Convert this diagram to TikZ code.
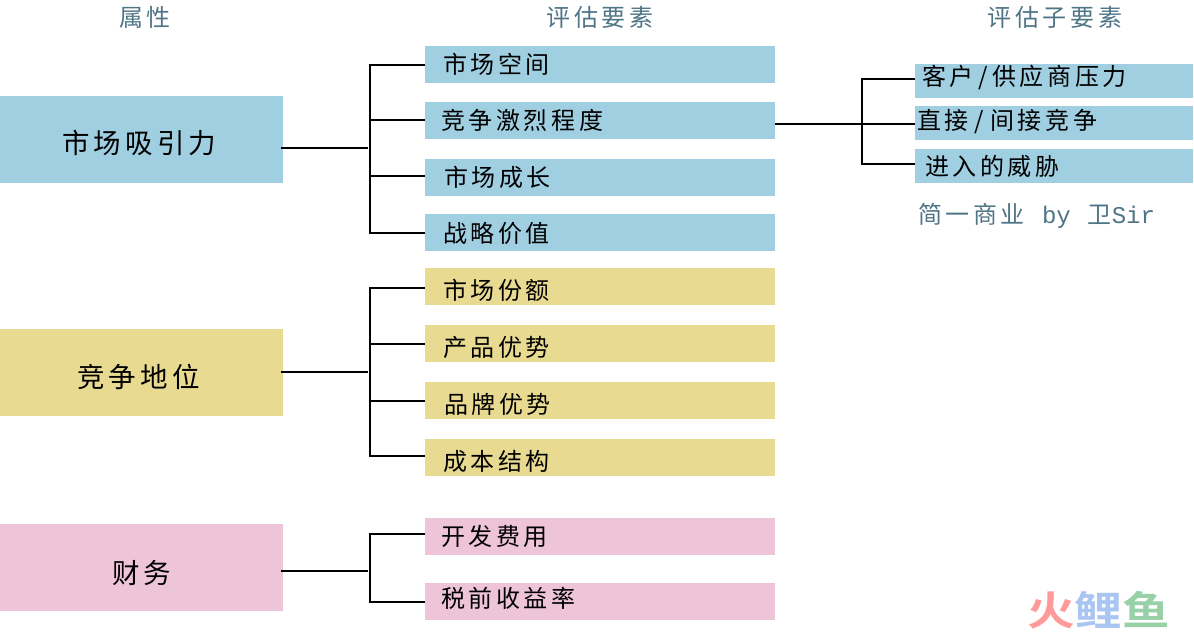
\documentclass[tikz,border=0pt]{standalone}
\usepackage{fontspec}
\setmainfont{Noto Sans CJK SC}[LetterSpace=15]
\newfontfamily\wmfont{Noto Sans CJK SC}[BoldFont=* Bold]
\newfontfamily\latinmono{Liberation Mono}
\usetikzlibrary{positioning}

\definecolor{attrblue}{HTML}{A0CFE2}
\definecolor{attryellow}{HTML}{E8DA90}
\definecolor{attrpink}{HTML}{EEC4D8}
\definecolor{headslate}{HTML}{4F7486}

\tikzset{
  attrbox/.style={minimum width=283,minimum height=86.5,inner sep=0,anchor=north west},
  itembox/.style={minimum width=350,minimum height=37,inner sep=0,anchor=north west},
  subbox/.style={fill=attrblue,minimum width=278,minimum height=34,inner sep=0,anchor=north west},
  attrtext/.style={font=\fontsize{27.5}{30}\selectfont,inner sep=0,anchor=west},
  itemtext/.style={font=\fontsize{24}{26}\selectfont,inner sep=0,anchor=west},
  headtext/.style={font=\fontsize{24}{26}\selectfont,text=headslate,inner sep=0},
  conn/.style={black,line width=2pt}
}

\begin{document}
\begin{tikzpicture}[x=1pt,y=-1pt]
\useasboundingbox (0,0) rectangle (1194,634);

% Headers
\node[headtext] (headattr) at (145,17) {属性};
\node[headtext] (headitem) at (600,17) {评估要素};
\node[headtext] (headsub) at (1055,17) {评估子要素};

% Attributes
\node[attrbox,fill=attrblue] (market) at (0,96) {};
\node[attrbox,fill=attryellow] (compete) at (0,329) {};
\node[attrbox,fill=attrpink] (finance) at (0,524) {};
\node[attrtext] (markettext) at (62,143) {市场吸引力};
\node[attrtext] (competetext) at (77,377) {竞争地位};
\node[attrtext] (financetext) at (112,573) {财务};

% Items, blue
\node[itembox,fill=attrblue] (space) at (425,46) {};
\node[itembox,fill=attrblue] (rivalry) at (425,102) {};
\node[itembox,fill=attrblue] (growth) at (425,159) {};
\node[itembox,fill=attrblue] (strategy) at (425,214) {};
\node[itemtext] at (443,64) {市场空间};
\node[itemtext] at (441,120) {竞争激烈程度};
\node[itemtext] at (444,177) {市场成长};
\node[itemtext] at (443,233) {战略价值};

% Items, yellow
\node[itembox,fill=attryellow] (share) at (425,268) {};
\node[itembox,fill=attryellow] (product) at (425,325) {};
\node[itembox,fill=attryellow] (brand) at (425,382) {};
\node[itembox,fill=attryellow] (cost) at (425,439) {};
\node[itemtext] at (443,290) {市场份额};
\node[itemtext] at (443,347) {产品优势};
\node[itemtext] at (444,404) {品牌优势};
\node[itemtext] at (443,461) {成本结构};

% Items, pink
\node[itembox,fill=attrpink] (develop) at (425,518) {};
\node[itembox,fill=attrpink] (profit) at (425,583) {};
\node[itemtext] at (441,536) {开发费用};
\node[itemtext] at (441,598) {税前收益率};

% Sub items
\node[subbox] (supplier) at (915,64) {};
\node[subbox] (direct) at (915,106) {};
\node[subbox] (threat) at (915,149) {};
\node[itemtext] at (922,77) {客户\kern5pt/\kern4pt供应商压力};
\node[itemtext] at (917,122) {直接\kern6pt/\kern6pt间接竞争};
\node[itemtext] at (925,166) {进入的威胁};
\node[headtext,anchor=west] (credit) at (918,216) {简一商业\hspace{17pt}{\latinmono by}\hspace{17pt}卫{\latinmono Sir}};

% Connectors
\coordinate (marketjoin) at (368,148);
\coordinate (competejoin) at (368,372);
\coordinate (financejoin) at (368,571);
\draw[conn] ([xshift=-2]market.east |- marketjoin) -- (marketjoin);
\draw[conn] ([xshift=-2]compete.east |- competejoin) -- (competejoin);
\draw[conn] ([xshift=-2]finance.east |- financejoin) -- (financejoin);

\coordinate (markettrunk) at (370,148);
\coordinate (competetrunk) at (370,372);
\coordinate (financetrunk) at (370,571);

\draw[conn] (space.west) -| (markettrunk) |- (strategy.west);
\draw[conn] ([yshift=1]rivalry.west) -- ++(-55,0);
\draw[conn] ([yshift=1.5]growth.west) -- ++(-55,0);

\draw[conn] ([yshift=-1.5]share.west) -| (competetrunk) |- ([yshift=1.5]cost.west);
\draw[conn] (product.west) -- ++(-55,0);
\draw[conn] (brand.west) -- ++(-55,0);

\draw[conn] ([yshift=2.5]develop.west) -| (financetrunk) |- (profit.west);

\coordinate (rivalryjoin) at (862,124);
\draw[conn] (rivalry.east |- rivalryjoin) -- (direct.west |- rivalryjoin);
\draw[conn] ([yshift=2]supplier.west) -| (rivalryjoin) |- ([yshift=2]threat.west);

% Mark in the corner
\node[font=\wmfont\bfseries\fontsize{40}{42}\selectfont,xscale=1.19,transform shape,inner sep=0,anchor=west] (mark) at (1027,610)
  {\textcolor[HTML]{FF9A9A}{火}\textcolor[HTML]{A9C6F2}{鲤}\textcolor[HTML]{98D0A8}{鱼}};
\end{tikzpicture}
\end{document}
